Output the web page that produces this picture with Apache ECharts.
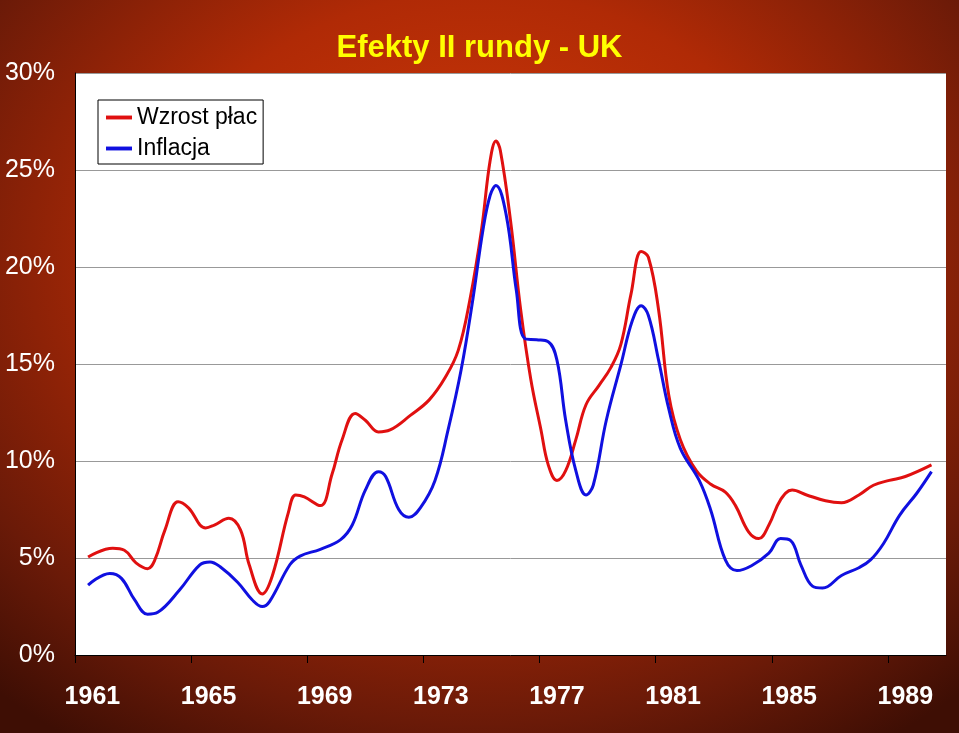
<!DOCTYPE html>
<html>
<head>
<meta charset="utf-8">
<script src="https://cdn.jsdelivr.net/npm/echarts@6/dist/echarts.min.js"></script>
<style>
html, body { margin: 0; padding: 0; }
#main {
    width: 959px; height: 733px;
    background: radial-gradient(ellipse 75% 80% at 50% 35%, #d43c08 0%, #b02a06 45%, #6a1a08 80%, #3e0e04 100%);
}
</style>
</head>
<body>
<div id="main"></div>
<script>
// Wzrost płac - [rok, %]
var wagesYears = [1961.45,1962.3,1962.7,1963.1,1963.5,1963.75,1964.1,1964.55,1964.9,1965.5,1965.8,1966.3,1966.7,1967.0,1967.45,1967.8,1968.35,1968.6,1968.9,1969.45,1969.85,1970.2,1970.65,1971.0,1971.45,1971.85,1972.55,1973.2,1973.75,1974.2,1974.6,1975.0,1975.3,1975.5,1975.65,1976.0,1976.35,1976.7,1977.05,1977.3,1977.6,1977.9,1978.25,1978.6,1979.05,1979.45,1979.8,1980.15,1980.5,1980.75,1981.1,1981.45,1981.85,1982.4,1982.9,1983.4,1983.75,1984.2,1984.55,1984.9,1985.3,1985.7,1986.2,1986.85,1987.4,1988.0,1988.5,1989.05,1989.6,1990.5];
var wagesValues = [5.05,5.5,5.4,4.75,4.45,4.9,6.45,7.9,7.6,6.55,6.7,7.05,6.45,4.65,3.15,4.1,7.35,8.25,8.15,7.7,9.3,11.1,12.45,12.1,11.5,11.6,12.35,13.15,14.3,15.7,18.3,21.9,25.5,26.5,26.0,22.4,17.8,14.2,11.6,9.8,9.0,9.5,11.1,12.9,13.9,14.8,16.0,18.6,20.8,20.5,17.8,13.4,11.1,9.5,8.8,8.4,7.7,6.35,6.0,6.7,8.0,8.5,8.25,7.95,7.85,8.25,8.75,9.0,9.2,9.8];
// Inflacja - [rok, %]
var inflYears = [1961.45,1962.2,1962.6,1963.05,1963.5,1963.85,1964.6,1965.3,1965.65,1966.0,1966.6,1967.1,1967.45,1967.7,1968.4,1968.75,1969.45,1970.15,1970.55,1971.0,1971.45,1971.7,1972.15,1972.5,1972.9,1973.4,1973.85,1974.3,1974.7,1975.05,1975.3,1975.5,1975.85,1976.2,1976.5,1976.9,1977.3,1977.6,1977.9,1978.25,1978.6,1978.85,1979.3,1979.8,1980.2,1980.5,1980.75,1981.1,1981.45,1981.85,1982.5,1982.9,1983.4,1983.8,1984.3,1984.9,1985.3,1985.65,1986.0,1986.4,1986.75,1987.4,1988.0,1988.4,1988.85,1989.4,1990.0,1990.5];
var inflValues = [3.6,4.2,3.95,2.85,2.1,2.2,3.35,4.65,4.8,4.55,3.75,2.85,2.5,2.75,4.65,5.1,5.45,5.95,6.7,8.5,9.45,9.2,7.5,7.1,7.6,9.0,11.6,14.7,18.3,21.9,23.7,24.2,22.7,18.8,16.3,16.25,16.15,15.2,12.1,9.5,8.25,8.75,12.1,14.95,17.25,18.0,17.5,15.2,12.7,10.65,9.0,7.45,4.9,4.35,4.6,5.25,6.0,5.9,4.65,3.55,3.45,4.1,4.5,4.9,5.75,7.2,8.35,9.45];
var tickYears = [1961,1965,1969,1973,1977,1981,1985,1989];

function pairs(xs, ys) {
    var out = [];
    for (var i = 0; i < xs.length; i++) out.push([xs[i], ys[i]]);
    return out;
}

var myChart = echarts.init(document.getElementById('main'));
var option = {
    backgroundColor: 'transparent',
    animation: false,
    title: {
        text: 'Efekty II rundy - UK',
        left: 'center',
        top: 28,
        textStyle: { color: '#ffff00', fontSize: 31, fontWeight: 'bold', fontFamily: 'Liberation Sans' }
    },
    legend: {
        orient: 'vertical',
        left: 98, top: 100,
        backgroundColor: '#fff',
        borderColor: '#000',
        borderWidth: 1,
        borderRadius: 0,
        padding: [6, 6, 4, 8],
        itemGap: 8,
        itemWidth: 26,
        icon: 'path://M0,0 L10,0 L10,1.5 L0,1.5 Z',
        textStyle: { fontSize: 23, color: '#000', fontFamily: 'Liberation Sans Narrow, Liberation Sans' },
        data: ['Wzrost płac', 'Inflacja']
    },
    grid: { left: 75, right: 13, top: 73, bottom: 78, backgroundColor: '#fff', show: true, borderWidth: 0 },
    xAxis: {
        type: 'value',
        min: 1961, max: 1991,
        splitLine: { show: false },
        axisLine: { lineStyle: { color: '#000', width: 1 } },
        axisTick: { show: true, length: 8, inside: false, lineStyle: { color: '#000' }, customValues: tickYears },
        axisLabel: {
            customValues: tickYears.map(function(y) { return y + 0.6; }),
            formatter: function(v) { return String(Math.round(v - 0.6)); },
            color: '#fff', fontSize: 25, fontWeight: 'bold', margin: 30,
            fontFamily: 'Liberation Sans Narrow, Liberation Sans'
        }
    },
    yAxis: {
        type: 'value',
        min: 0, max: 30, interval: 5,
        axisLine: { show: true, lineStyle: { color: '#000' } },
        axisTick: { show: false },
        splitLine: { lineStyle: { color: '#999', width: 1 } },
        axisLabel: {
            formatter: '{value}%', color: '#fff', fontSize: 25, margin: 20,
            fontFamily: 'Liberation Sans Narrow, Liberation Sans'
        }
    },
    series: [{
        name: 'Wzrost płac',
        type: 'line',
        smooth: 0.4,
        showSymbol: false,
        color: '#e01010',
        lineStyle: { width: 3, color: '#e01010' },
        data: pairs(wagesYears, wagesValues)
    }, {
        name: 'Inflacja',
        type: 'line',
        smooth: 0.4,
        showSymbol: false,
        color: '#1010e0',
        lineStyle: { width: 3, color: '#1010e0' },
        data: pairs(inflYears, inflValues)
    }]
};
myChart.setOption(option);
</script>
</body>
</html>
